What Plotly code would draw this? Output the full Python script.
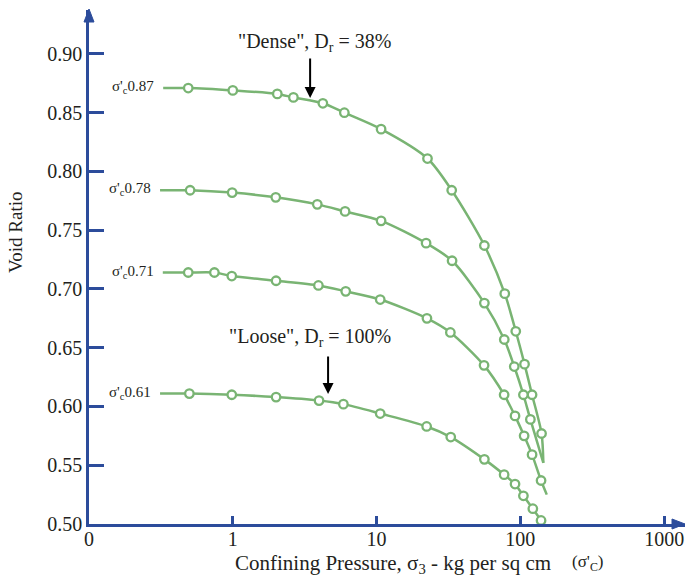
import math
import plotly.graph_objects as go

# Confining pressure (kg per sq cm) and void ratio for each initial state
p_087 = [0.49, 1.0, 2.04, 2.64, 4.23, 5.97, 10.75, 22.6, 33.3, 56.2, 77.9, 92.9, 106.9, 120.6, 140.4]
e_087 = [0.871, 0.869, 0.866, 0.863, 0.858, 0.850, 0.836, 0.811, 0.784, 0.737, 0.696, 0.664, 0.636, 0.610, 0.577]

p_078 = [0.505, 0.99, 1.99, 3.87, 6.04, 10.75, 22.1, 33.5, 56.2, 77.3, 90.7, 105.0, 117.4]
e_078 = [0.784, 0.782, 0.778, 0.772, 0.766, 0.758, 0.739, 0.724, 0.688, 0.657, 0.634, 0.610, 0.589]

p_071 = [0.49, 0.745, 0.984, 2.0, 3.94, 6.1, 10.6, 22.4, 32.6, 55.9, 77.1, 91.8, 106.2, 120.6, 139.3]
e_071 = [0.714, 0.714, 0.711, 0.707, 0.703, 0.698, 0.691, 0.675, 0.663, 0.635, 0.610, 0.592, 0.575, 0.559, 0.537]

p_061 = [0.499, 0.984, 2.0, 3.98, 5.88, 10.6, 22.3, 32.8, 56.2, 77.1, 91.8, 105.0, 122.1, 139.3]
e_061 = [0.611, 0.610, 0.608, 0.605, 0.602, 0.594, 0.583, 0.574, 0.555, 0.542, 0.534, 0.524, 0.513, 0.503]

# Curve extensions beyond the measured points (start, end); None = no extension
curve_start_p = [0.328, 0.312, 0.326, 0.312]
curve_end = [(144.5, 0.552), (144.5, 0.552), (152.6, 0.525), None]
curve_labels = ["0.87", "0.78", "0.71", "0.61"]

x_tickvals = [0.1, 1, 10, 100, 1000]
x_ticktext = ["0", "1", "10", "100", "1000"]
y_tickvals = [0.50, 0.55, 0.60, 0.65, 0.70, 0.75, 0.80, 0.85, 0.90]

GREEN = "#79b473"
BLUE = "#2c4c9b"
INK = "#231f20"
FONT = "Liberation Serif, Times New Roman, serif"

W, H = 685, 580
ML, MR, MT, MB = 89, 0, 10, 56
PW, PH = W - ML - MR, H - MT - MB


def px(x):
    return (x - ML) / PW


def py(y):
    return (H - MB - y) / PH


def note(x, y, text, size, **kw):
    fig.add_annotation(x=px(x), y=py(y), xref="paper", yref="paper",
                       text=text, showarrow=False,
                       xanchor="center", yanchor="middle",
                       font=dict(family=FONT, size=size, color=INK), **kw)


fig = go.Figure()

series = [(p_087, e_087), (p_078, e_078), (p_071, e_071), (p_061, e_061)]
for (p, e), p0, end, lab in zip(series, curve_start_p, curve_end, curve_labels):
    lx = [p0] + list(p)
    ly = [e[0]] + list(e)
    if end is not None:
        lx.append(end[0])
        ly.append(end[1])
    fig.add_trace(go.Scatter(
        x=lx, y=ly, mode="lines",
        line=dict(color=GREEN, width=2.5, shape="spline", smoothing=0.8),
        hoverinfo="skip", showlegend=False))
    fig.add_trace(go.Scatter(
        x=p, y=e, mode="markers",
        marker=dict(symbol="circle", size=8.5, color="white",
                    line=dict(color=GREEN, width=2.3)),
        showlegend=False))
    fig.add_annotation(
        x=math.log10(p0), y=e[0], xref="x", yref="y",
        text="σ'<sub>c</sub>" + lab, showarrow=False,
        xanchor="right", yanchor="middle", xshift=-7, yshift=1,
        font=dict(family=FONT, size=15, color=INK))

# Pointer arrows for the density states
fig.add_annotation(x=math.log10(3.45), y=0.8626, xref="x", yref="y",
                   text="", showarrow=True, arrowhead=2, arrowsize=1.1,
                   arrowwidth=2, arrowcolor="black", ax=0, ay=-41)
note(314, 42, "\"Dense\", D<sub>r</sub> = 38%", 20)
fig.add_annotation(x=math.log10(4.6), y=0.6106, xref="x", yref="y",
                   text="", showarrow=True, arrowhead=2, arrowsize=1.1,
                   arrowwidth=2, arrowcolor="black", ax=0, ay=-39)
note(310, 337, "\"Loose\", D<sub>r</sub> = 100%", 20)

# Axis titles
note(393, 564, "Confining Pressure, σ<sub>3</sub> - kg per sq cm", 21)
note(588, 563, "(σ'<sub>C</sub>)", 17)
note(15, 233, "Void Ratio", 19, textangle=-90)

# Arrowheads on the axes
fig.add_shape(type="path", xref="paper", yref="paper",
              path=f"M {px(685)},{py(524)} L {px(672)},{py(519)} L {px(672)},{py(529)} Z",
              fillcolor=BLUE, line=dict(color=BLUE, width=1))
fig.add_shape(type="path", xref="paper", yref="paper",
              path=f"M {px(89)},{py(9)} L {px(84)},{py(22)} L {px(94)},{py(22)} Z",
              fillcolor=BLUE, line=dict(color=BLUE, width=1))

fig.update_xaxes(
    type="log", range=[-1, 3.145],
    tickvals=x_tickvals, ticktext=x_ticktext,
    ticks="inside", ticklen=8, tickwidth=2.5, tickcolor=BLUE,
    ticklabelstandoff=-5,
    showline=True, linecolor=BLUE, linewidth=2.5,
    showgrid=False, zeroline=False,
    tickfont=dict(family=FONT, size=20, color=INK))
fig.update_yaxes(
    range=[0.5, 0.9374],
    tickvals=y_tickvals, tickformat=".2f",
    ticks="inside", ticklen=15, tickwidth=2.5, tickcolor=BLUE,
    showline=True, linecolor=BLUE, linewidth=2.5,
    showgrid=False, zeroline=False,
    tickfont=dict(family=FONT, size=20, color=INK))

fig.update_layout(
    width=W, height=H,
    margin=dict(l=ML, r=MR, t=MT, b=MB),
    paper_bgcolor="white", plot_bgcolor="white",
    showlegend=False)

fig.write_html("out.html")
